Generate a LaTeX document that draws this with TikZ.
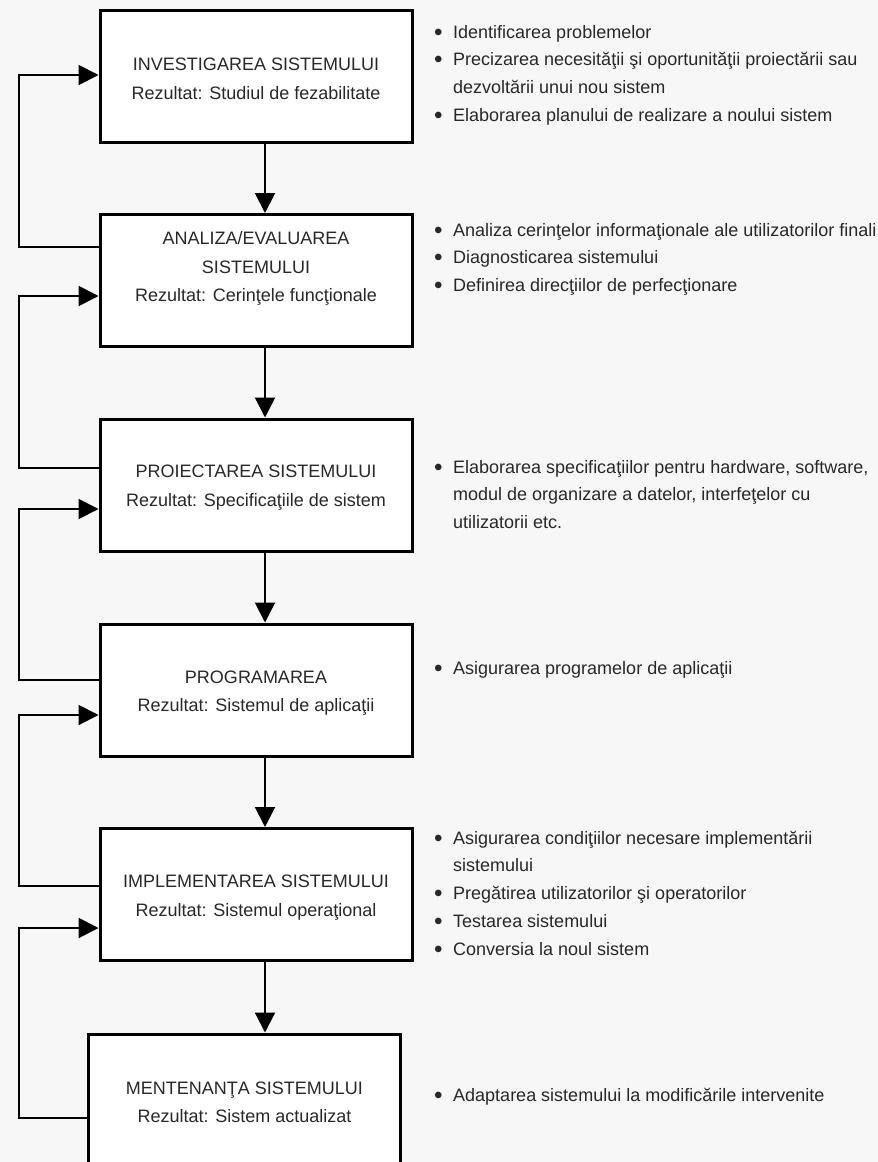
\documentclass[tikz,border=0pt]{standalone}
\usepackage{fontspec}
\setmainfont{Liberation Sans}
\usetikzlibrary{arrows.meta}
\definecolor{txt}{RGB}{40,40,40}
\definecolor{bg}{RGB}{247,247,247}
\newcommand\bl{\raisebox{-2pt}{\scalebox{1.35}{\textbullet}}}
\begin{document}
\begin{tikzpicture}[x=1pt,y=-1pt,
  box/.style={draw=black, line width=3pt, fill=white, minimum width=312pt, minimum height=132pt, inner sep=0pt},
  boxtext/.style={align=center, font=\fontsize{18}{28.5}\selectfont, text=txt, inner sep=0pt},
  items/.style={anchor=base west, inner sep=0pt, font=\fontsize{18}{27.8}\selectfont, text=txt},
  conn/.style={line width=2pt, -{Triangle[length=20pt,width=20pt]}},
  fb/.style={line width=2pt, -{Triangle[length=20pt,width=20pt]}}]
\fill[bg] (0,0) rectangle (878,1162);
\useasboundingbox (0,0) rectangle (878,1162);
\begin{scope}
\clip (0,0) rectangle (878,1162);
% boxes
\node[box] (b1) at (256,76.5) {};
\node[box] (b2) at (256,280.5) {};
\node[box] (b3) at (256,485) {};
\node[box] (b4) at (256,690) {};
\node[box] (b5) at (256,894.5) {};
\node[box] (b6) at (244.5,1100) {};
% box texts
\node[boxtext] (t1) at (256,79) {INVESTIGAREA SISTEMULUI\\Rezultat: Studiul de fezabilitate};
\node[boxtext] (t2) at (256,268.5) {ANALIZA/EVALUAREA\\SISTEMULUI\\Rezultat: Cerinţele funcţionale};
\node[boxtext] (t3) at (256,487.5) {PROIECTAREA SISTEMULUI\\Rezultat: Specificaţiile de sistem};
\node[boxtext] (t4) at (256,693) {PROGRAMAREA\\Rezultat: Sistemul de aplicaţii};
\node[boxtext] (t5) at (256,897.5) {IMPLEMENTAREA SISTEMULUI\\Rezultat: Sistemul operaţional};
\node[boxtext] (t6) at (244.5,1102.5) {MENTENANŢA SISTEMULUI\\Rezultat: Sistem actualizat};
% down arrows
\coordinate (ax) at (265,0);
\draw[conn] (b1.south -| ax) -- (b2.north -| ax);
\draw[conn] (b2.south -| ax) -- (b3.north -| ax);
\draw[conn] (b3.south -| ax) -- (b4.north -| ax);
\draw[conn] (b4.south -| ax) -- (b5.north -| ax);
\draw[conn] (b5.south -| ax) -- (b6.north -| ax);
% feedback loops
\draw[fb] ([yshift=33.5pt]b2.west) -- ++(-80,0) |- ([yshift=1.5pt]b1.west);
\draw[fb] ([yshift=17pt]b3.west) -- ++(-80,0) |- ([yshift=-15.5pt]b2.west);
\draw[fb] ([yshift=10pt]b4.west) -- ++(-80,0) |- ([yshift=-24pt]b3.west);
\draw[fb] ([yshift=8.5pt]b5.west) -- ++(-80,0) |- ([yshift=-25pt]b4.west);
\draw[fb] ([yshift=-18pt]b6.west) -- ++(-68,0) |- ([yshift=-33.5pt]b5.west);
% item lists
\node[items] (g1) at (434,38) {\begin{tabular}[t]{@{}l@{\hspace{10.5pt}}l@{}}
\bl & Identificarea problemelor\\
\bl & Precizarea necesităţii şi oportunităţii proiectării sau\\
 & dezvoltării unui nou sistem\\
\bl & Elaborarea planului de realizare a noului sistem
\end{tabular}};
\node[items] (g2) at (434,236) {\begin{tabular}[t]{@{}l@{\hspace{10.5pt}}l@{}}
\bl & Analiza cerinţelor informaţionale ale utilizatorilor finali\\
\bl & Diagnosticarea sistemului\\
\bl & Definirea direcţiilor de perfecţionare
\end{tabular}};
\node[items] (g3) at (434,473) {\begin{tabular}[t]{@{}l@{\hspace{10.5pt}}l@{}}
\bl & Elaborarea specificaţiilor pentru hardware, software,\\
 & modul de organizare a datelor, interfeţelor cu\\
 & utilizatorii etc.
\end{tabular}};
\node[items] (g4) at (434,674) {\begin{tabular}[t]{@{}l@{\hspace{10.5pt}}l@{}}
\bl & Asigurarea programelor de aplicaţii
\end{tabular}};
\node[items] (g5) at (434,844) {\begin{tabular}[t]{@{}l@{\hspace{10.5pt}}l@{}}
\bl & Asigurarea condiţiilor necesare implementării\\
 & sistemului\\
\bl & Pregătirea utilizatorilor şi operatorilor\\
\bl & Testarea sistemului\\
\bl & Conversia la noul sistem
\end{tabular}};
\node[items] (g6) at (434,1101) {\begin{tabular}[t]{@{}l@{\hspace{10.5pt}}l@{}}
\bl & Adaptarea sistemului la modificările intervenite
\end{tabular}};
\end{scope}
\end{tikzpicture}
\end{document}
